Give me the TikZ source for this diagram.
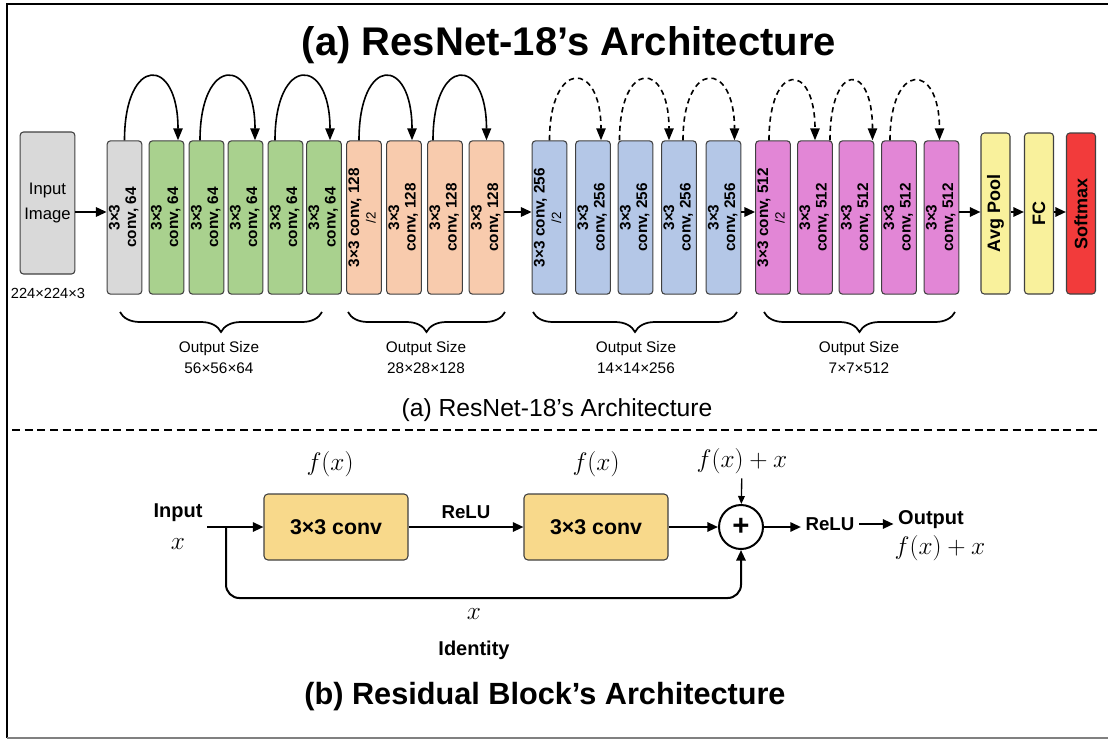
\RequirePackage{fix-cm}
\documentclass[tikz,border=0pt]{standalone}
\usepackage{fontspec}
\setmainfont{Liberation Sans}
\usetikzlibrary{arrows.meta,calc,decorations.pathreplacing}

\definecolor{grayfill}{HTML}{D9D9D9}
\definecolor{greenfill}{HTML}{A9D18E}
\definecolor{orangefill}{HTML}{F8CBAD}
\definecolor{bluefill}{HTML}{B4C7E7}
\definecolor{pinkfill}{HTML}{E286D6}
\definecolor{yellowfill}{HTML}{F9F19C}
\definecolor{redfill}{HTML}{F23B3B}
\definecolor{convfill}{HTML}{F8D98B}

\newcommand{\vlab}[1]{\rotatebox{90}{\begin{tabular}{@{}c@{}}#1\end{tabular}}}
\newcommand{\halfsz}{{\mdseries\fontsize{10}{11}\selectfont /2}}
\newcommand{\bigmath}[1]{{\fontsize{19}{19}\selectfont$#1$}}

\tikzset{
  layer/.style={draw=black!75, line width=0.8pt, rounded corners=2.5pt, inner sep=0pt,
    minimum width=26pt, minimum height=115pt, font=\bfseries\fontsize{11.5}{12.5}\selectfont},
  headbox/.style={layer, minimum width=21.75pt, minimum height=120.75pt,
    font=\bfseries\fontsize{13.5}{15}\selectfont},
  flow/.style={-{Triangle[length=8pt,width=7pt]}, line width=1.5pt},
  skip/.style={-{Triangle[length=9pt,width=7pt]}, line width=1.2pt},
  dskip/.style={skip, dash pattern=on 4pt off 3pt},
  brc/.style={decorate, decoration={brace,mirror,amplitude=15pt}, line width=1.3pt},
  sizelab/.style={align=center, font=\fontsize{11.5}{15.5}\selectfont},
  convbox/.style={draw=black!75, fill=convfill, line width=0.8pt, rounded corners=3pt,
    minimum width=108pt, minimum height=49.5pt, font=\bfseries\fontsize{16}{19}\selectfont},
  lbl/.style={font=\bfseries\fontsize{15}{24}\selectfont},
  fx/.style={font=\fontsize{19}{22}\selectfont}
}

\begin{document}
\begin{tikzpicture}[x=0.75pt, y=-0.75pt]
  \useasboundingbox (0,0) rectangle (1108,740);
  \draw[line width=1.5pt] (1108,4) -- (7,4) -- (7,738);
  \draw[line width=1.5pt, black!50] (7,738) -- (1108,738);

  % (a) ResNet-18
  \node[font=\bfseries\fontsize{30}{36}\selectfont] (ttla) at (569,45) {(a) ResNet-18’s Architecture};

  \node[layer, fill=grayfill, minimum width=41pt, minimum height=106.5pt, align=center,
        font=\fontsize{12.5}{19}\selectfont] (img) at (47.5,203) {Input\\Image};
  \node[font=\fontsize{11}{12}\selectfont] (imgsz) at (48,293) {224×224×3};
  \coordinate (mid) at (0,212);

  \node[layer, fill=grayfill]  (c1) at (124.5,217.5) {\vlab{3×3\\conv, 64}};
  \node[layer, fill=greenfill] (c2) at (166.5,217.5) {\vlab{3×3\\conv, 64}};
  \node[layer, fill=greenfill] (c3) at (206.5,217.5) {\vlab{3×3\\conv, 64}};
  \node[layer, fill=greenfill] (c4) at (245.5,217.5) {\vlab{3×3\\conv, 64}};
  \node[layer, fill=greenfill] (c5) at (285.5,217.5) {\vlab{3×3\\conv, 64}};
  \node[layer, fill=greenfill] (c6) at (324,217.5)   {\vlab{3×3\\conv, 64}};

  \node[layer, fill=orangefill] (o1) at (364,217.5)   {\vlab{3×3 conv, 128\\\halfsz}};
  \node[layer, fill=orangefill] (o2) at (404,217.5)   {\vlab{3×3\\conv, 128}};
  \node[layer, fill=orangefill] (o3) at (445,217.5)   {\vlab{3×3\\conv, 128}};
  \node[layer, fill=orangefill] (o4) at (486.5,217.5) {\vlab{3×3\\conv, 128}};

  \node[layer, fill=bluefill] (b1) at (549.5,217.5) {\vlab{3×3 conv, 256\\\halfsz}};
  \node[layer, fill=bluefill] (b2) at (593,217.5)   {\vlab{3×3\\conv, 256}};
  \node[layer, fill=bluefill] (b3) at (635.5,217.5) {\vlab{3×3\\conv, 256}};
  \node[layer, fill=bluefill] (b4) at (679,217.5)   {\vlab{3×3\\conv, 256}};
  \node[layer, fill=bluefill] (b5) at (723.5,217.5) {\vlab{3×3\\conv, 256}};

  \node[layer, fill=pinkfill] (p1) at (773,217.5)   {\vlab{3×3 conv, 512\\\halfsz}};
  \node[layer, fill=pinkfill] (p2) at (815,217.5)   {\vlab{3×3\\conv, 512}};
  \node[layer, fill=pinkfill] (p3) at (856.5,217.5) {\vlab{3×3\\conv, 512}};
  \node[layer, fill=pinkfill] (p4) at (899,217.5)   {\vlab{3×3\\conv, 512}};
  \node[layer, fill=pinkfill] (p5) at (941.5,217.5) {\vlab{3×3\\conv, 512}};

  \node[headbox, fill=yellowfill] (pool) at (995.5,213.5) {\rotatebox{90}{Avg Pool}};
  \node[headbox, fill=yellowfill] (fc)   at (1039,213.5)  {\rotatebox{90}{FC}};
  \node[headbox, fill=redfill]    (soft) at (1081,213.5)  {\rotatebox{90}{Softmax}};

  \draw[flow] (img.east |- mid) -- (c1.west |- mid);
  \draw[flow] (o4.east |- mid) -- (b1.west |- mid);
  \draw[flow] (b5.east |- mid) -- (p1.west |- mid);
  \draw[flow] (p5.east |- mid) -- (pool.west |- mid);
  \draw[flow] (pool.east |- mid) -- (fc.west |- mid);
  \draw[flow] (fc.east |- mid) -- (soft.west |- mid);

  % shortcuts
  \draw[skip] (c1.north) .. controls +(0,-85) and +(0,-85) .. ($(c2.north)+(11.5,0)$);
  \draw[skip] ($(c3.north)+(-6.5,0)$) .. controls +(0,-85) and +(0,-85) .. ($(c4.north)+(9.5,0)$);
  \draw[skip] ($(c5.north)+(-10.5,0)$) .. controls +(0,-85) and +(0,-85) .. ($(c6.north)+(6,0)$);
  \draw[skip] ($(o1.north)+(-5,0)$) .. controls +(0,-85) and +(0,-85) .. ($(o2.north)+(8,0)$);
  \draw[skip] ($(o3.north)+(-12,0)$) .. controls +(0,-85) and +(0,-85) .. (o4.north);
  \draw[dskip] (b1.north) .. controls +(0,-81) and +(0,-81) .. ($(b2.north)+(8,0)$);
  \draw[dskip] ($(b3.north)+(-16,0)$) .. controls +(0,-81) and +(0,-81) .. ($(b4.north)+(-10,0)$);
  \draw[dskip] ($(b4.north)+(4,0)$) .. controls +(0,-81) and +(0,-81) .. ($(b5.north)+(11,0)$);
  \draw[dskip] ($(p1.north)+(-4,0)$) .. controls +(0,-79) and +(0,-79) .. (p2.north);
  \draw[dskip] ($(p2.north)+(15,0)$) .. controls +(0,-79) and +(0,-79) .. ($(p3.north)+(16,0)$);
  \draw[dskip] ($(p4.north)+(-9,0)$) .. controls +(0,-79) and +(0,-79) .. ($(p5.north)+(-2,0)$);

  % output sizes
  \draw[brc] (120,312) -- (322,312);
  \draw[brc] (348,312) -- (505,312);
  \draw[brc] (533,312) -- (737,312);
  \draw[brc] (764,312) -- (955,312);
  \node[sizelab] (os1) at (219,357.5) {Output Size\\56×56×64};
  \node[sizelab] (os2) at (426,357.5) {Output Size\\28×28×128};
  \node[sizelab] (os3) at (636,357.5) {Output Size\\14×14×256};
  \node[sizelab] (os4) at (859,357.5) {Output Size\\7×7×512};

  \node[font=\fontsize{18.5}{22}\selectfont] (capa) at (557,410) {(a) ResNet-18’s Architecture};

  \draw[line width=1.2pt, dash pattern=on 6pt off 3.5pt] (12,430) -- (1100,430);

  % (b) residual block
  \node[lbl, align=center] (inp) at (178,527) {Input\\\bigmath{x}};
  \node[convbox] (cv1) at (336,527) {3×3 conv};
  \node[convbox] (cv2) at (596,527) {3×3 conv};
  \node[draw, circle, line width=1.5pt, minimum size=33pt, inner sep=0pt,
        font=\bfseries\fontsize{22}{22}\selectfont] (add) at (741,527) {+};
  \node[fx] (fx1) at (330,464) {$f(x)$};
  \node[fx] (fx2) at (596,464) {$f(x)$};
  \node[fx] (fx3) at (742,461) {$f(x)+x$};
  \node[lbl, font=\bfseries\fontsize{14}{16}\selectfont] (relu2) at (830,524) {ReLU};
  \node[lbl] (outp) at (931,520) {Output};
  \node[fx] (outf) at (940,548) {$f(x)+x$};
  \node[lbl, align=center, font=\bfseries\fontsize{15}{27}\selectfont] (idn) at (474,634) {\bigmath{x}\\Identity};
  \coordinate (br) at (226,527);
  \coordinate (idc) at (226,598);

  \draw[flow] (inp.east) -- (cv1.west);
  \draw[flow] (cv1) -- node[above, lbl, font=\bfseries\fontsize{14}{16}\selectfont, yshift=2pt] (relu1) {ReLU} (cv2);
  \draw[flow] (cv2) -- (add);
  \draw[-{Triangle[length=6pt,width=5pt]}, line width=1pt] (fx3) -- (add);
  \draw[flow] (add) -- (relu2.west |- add);
  \draw[flow] (relu2.east) -- (relu2.east -| outp.west);
  \draw[flow, rounded corners=10pt] (br) -- (idc) -| (add.south);

  \node[font=\bfseries\fontsize{23}{28}\selectfont] (ttlb) at (545,697) {(b) Residual Block’s Architecture};
\end{tikzpicture}
\end{document}
